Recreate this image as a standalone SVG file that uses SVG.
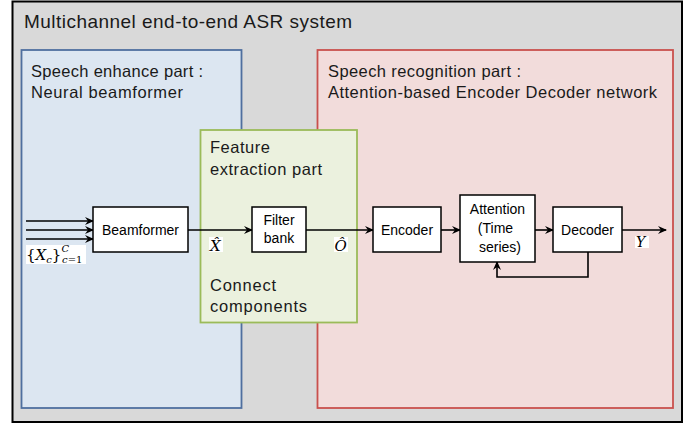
<svg xmlns="http://www.w3.org/2000/svg" width="697" height="426" viewBox="0 0 697 426">
<style>
.t{font-family:"Liberation Sans",Arial,sans-serif;fill:#1a1a1a}
.title{font-size:19px}
.sub{font-size:16.5px}
.box{fill:#fff;stroke:#000;stroke-width:1.5}
.bt{font-family:"Liberation Sans",Arial,sans-serif;font-size:14px;fill:#000;text-anchor:middle}
.ln{fill:none;stroke:#000;stroke-width:1.6}
.m{font-family:"DejaVu Serif","Liberation Serif",serif;font-style:italic;fill:#000}
</style>
<defs>
<marker id="ah" markerUnits="userSpaceOnUse" markerWidth="10" markerHeight="10" refX="8" refY="5" orient="auto">
<path d="M0,1 L9,5 L0,9 L3,5 z" fill="#000"/>
</marker>
</defs>
<rect width="697" height="426" fill="#fff"/>
<g id="system">
<rect x="12.5" y="1.5" width="669.5" height="420.5" fill="#d9d9d9" stroke="#000" stroke-width="2"/>
<text class="t title" x="24" y="28" textLength="328">Multichannel end-to-end ASR system</text>
</g>
<g id="enhance">
<rect x="21.5" y="50" width="220" height="358" fill="#dce6f1" stroke="#4f6f9f" stroke-width="1.8"/>
<text class="t sub" x="31" y="77" textLength="172">Speech enhance part :</text>
<text class="t sub" x="31" y="98" textLength="152">Neural beamformer</text>
</g>
<g id="recognition">
<rect x="317.5" y="50" width="355.5" height="358" fill="#f2dcdb" stroke="#c9504d" stroke-width="1.8"/>
<text class="t sub" x="328" y="77" textLength="193">Speech recognition part :</text>
<text class="t sub" x="328" y="98" textLength="329">Attention-based Encoder Decoder network</text>
</g>
<g id="feature">
<rect x="200.5" y="130" width="156.5" height="192.5" fill="#ebf1de" stroke="#9bbb59" stroke-width="1.8"/>
<text class="t sub" x="210" y="153" textLength="60">Feature</text>
<text class="t sub" x="210" y="175" textLength="112">extraction part</text>
<text class="t sub" x="210" y="291" textLength="66">Connect</text>
<text class="t sub" x="210" y="312" textLength="97">components</text>
</g>
<g id="connectors">
<line class="ln" x1="26" y1="221" x2="93" y2="221" marker-end="url(#ah)"/>
<line class="ln" x1="26" y1="230" x2="93" y2="230" marker-end="url(#ah)"/>
<line class="ln" x1="26" y1="239" x2="93" y2="239" marker-end="url(#ah)"/>
<line class="ln" x1="188" y1="230" x2="252" y2="230" marker-end="url(#ah)"/>
<line class="ln" x1="306" y1="230" x2="373" y2="230" marker-end="url(#ah)"/>
<line class="ln" x1="441" y1="230" x2="460" y2="230" marker-end="url(#ah)"/>
<line class="ln" x1="535" y1="230" x2="553" y2="230" marker-end="url(#ah)"/>
<line class="ln" x1="622" y1="230" x2="666" y2="230" marker-end="url(#ah)"/>
<polyline class="ln" points="588,252 588,277 497,277 497,262" marker-end="url(#ah)"/>
</g>
<g id="beamformer">
<rect class="box" x="93" y="207" width="95" height="45"/>
<text class="bt" x="140.5" y="235">Beamformer</text>
</g>
<g id="filterbank">
<rect class="box" x="252" y="207" width="54" height="45"/>
<text class="bt" x="279" y="225" font-size="13">Filter</text>
<text class="bt" x="279" y="243" font-size="13">bank</text>
</g>
<g id="encoder">
<rect class="box" x="373" y="207" width="68" height="45"/>
<text class="bt" x="407" y="235">Encoder</text>
</g>
<g id="attention">
<rect class="box" x="460" y="195" width="75" height="67"/>
<text class="bt" x="497.5" y="214">Attention</text>
<text class="bt" x="495.5" y="233">(Time</text>
<text class="bt" x="500" y="252">series)</text>
</g>
<g id="decoder">
<rect class="box" x="553" y="207" width="69" height="45"/>
<text class="bt" x="587.5" y="235">Decoder</text>
</g>
<g id="labels">
<rect x="26" y="245" width="60" height="19" fill="#fff"/>
<text class="m" x="26" y="260" font-size="15"><tspan font-style="normal">{</tspan>X<tspan font-size="10" dy="3">c</tspan><tspan font-style="normal" dy="-3">}</tspan><tspan font-size="10" dy="-8">C</tspan><tspan font-size="10" dx="-7" dy="11">c</tspan><tspan font-size="10" font-style="normal">=1</tspan></text>
<rect x="209" y="237" width="14" height="15" fill="#fff"/>
<text class="m" x="210" y="251" font-size="15">X̂</text>
<rect x="334" y="237" width="14" height="15" fill="#fff"/>
<text class="m" x="334.5" y="251" font-size="15">Ô</text>
<rect x="635" y="236" width="14" height="12" fill="#fff"/>
<text class="m" x="636" y="247" font-size="14">Y</text>
</g>
</svg>
